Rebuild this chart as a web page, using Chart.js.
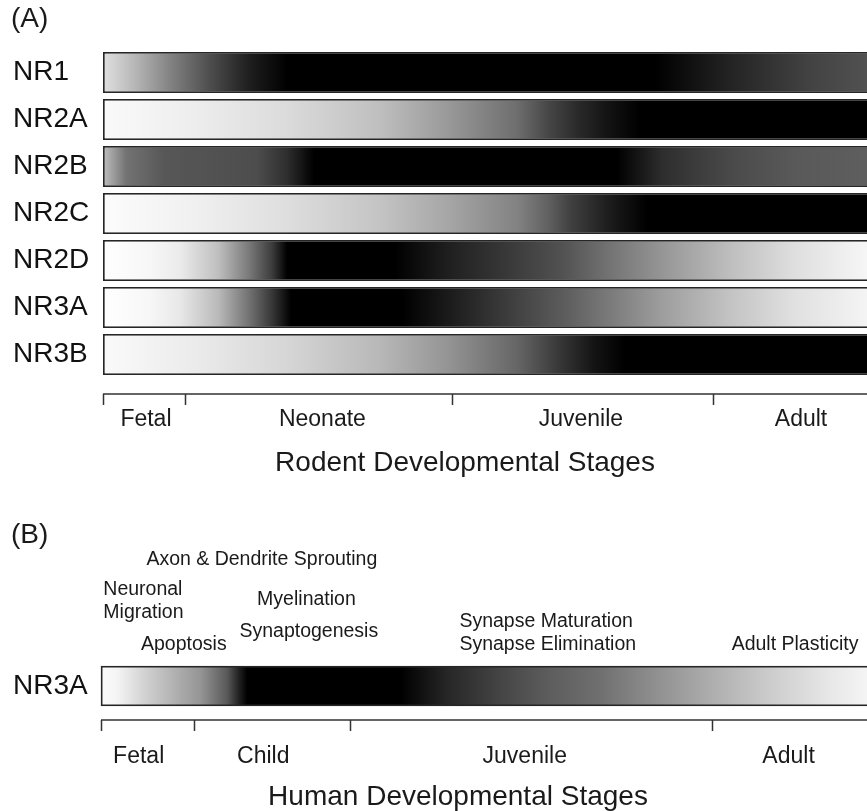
<!DOCTYPE html>
<html>
<head>
<meta charset="utf-8">
<script src="https://cdn.jsdelivr.net/npm/chart.js"></script>
<style>
  body { margin: 0; background: #fff; overflow: hidden; }
  #wrapA { position: absolute; left: 0; top: 0; width: 867px; height: 500px; }
  #wrapB { position: absolute; left: 0; top: 500px; width: 867px; height: 311px; }
</style>
</head>
<body>
<div id="wrapA"><canvas id="chartA"></canvas></div>
<div id="wrapB"><canvas id="chartB"></canvas></div>
<script>
const FONT = "'Liberation Sans', Arial, sans-serif";

// time line runs 0..100 (% of development shown)
const timeSpan = [0, 100];

// rodent subunits, top to bottom
const rodentGenes = ['NR1', 'NR2A', 'NR2B', 'NR2C', 'NR2D', 'NR3A', 'NR3B'];

// expression profiles: [time %, level 0..100] where 100 = black
const nr1  = [[0,12],[4,28],[9,50],[14,70],[19,88],[24,100],[72,100],[82,86],[92,74],[100,68]];
const nr2a = [[0,2],[12,7],[24,14],[36,25],[45,40],[54,57],[58,72],[62,84],[66,93],[70,100],[100,100]];
const nr2b = [[0,25],[3,55],[8,66],[20,70],[24,82],[27.5,100],[67,100],[73,82],[82,71],[90,65],[100,63]];
const nr2c = [[0,1],[12,6],[24,13],[36,23],[45,35],[54,49],[58,62],[61,75],[66,89],[71,100],[100,100]];
const nr2d = [[0,0],[6,3],[10,8],[15,25],[19,52],[22,76],[24,100],[38,100],[45,88],[54,76],[60,68],[66,55],[73,41],[82,25],[90,13],[100,3]];
const nr3a = [[0,0],[6,3],[10,9],[15,27],[19,55],[22,78],[24.5,100],[39,100],[46,88],[54,74],[60,64],[66,52],[73,38],[82,23],[90,12],[100,4]];
const nr3b = [[0,2],[12,8],[24,16],[36,28],[45,42],[54,60],[60,80],[64,92],[68,100],[100,100]];

// human NR3A
const humanGenes = ['NR3A'];
const humanNr3a = [[0,2],[2,4],[6,19],[10,32],[13,42],[16.4,65],[18,88],[19,100],[39,100],[45,85],[52,73],[58,64],[65,56],[72,44],[78,34],[87,20],[95,9],[100,4]];

// stage axes: boundaries and label anchors in time %
const rodentStages = ['Fetal', 'Neonate', 'Juvenile', 'Adult'];
const rodentBounds = [0, 10.7, 45.5, 79.5];
const rodentStageAt = [5.6, 28.6, 62.3, 91.0];

const humanStages = ['Fetal', 'Child', 'Juvenile', 'Adult'];
const humanBounds = [0, 12.1, 32.4, 79.5];
const humanStageAt = [4.9, 21.1, 55.1, 89.4];

// developmental events (human), left edge in time %
const events = ['Axon & Dendrite Sprouting', 'Neuronal', 'Migration', 'Myelination', 'Synaptogenesis',
                'Apoptosis', 'Synapse Maturation', 'Synapse Elimination', 'Adult Plasticity'];
const eventAt = [5.9, 0.3, 0.3, 20.3, 18.0, 5.2, 46.6, 46.6, 82.0];

function shade(level) {
    const g = Math.round(255 * (1 - level / 100));
    return 'rgb(' + g + ',' + g + ',' + g + ')';
}

function gradientFill(profiles) {
    return function (ctx) {
        const chart = ctx.chart;
        const x = chart.scales.x;
        if (!chart.chartArea || !x) return '#888';
        const x0 = x.getPixelForValue(timeSpan[0]);
        const x1 = x.getPixelForValue(timeSpan[1]);
        const grad = chart.ctx.createLinearGradient(x0, 0, x1, 0);
        profiles[ctx.dataIndex].forEach(([p, v]) => grad.addColorStop(p / 100, shade(v)));
        return grad;
    };
}

// draws the stage axis, titles and notes under / over the bars
const stageAxis = {
    id: 'stageAxis',
    afterDraw(chart, args, o) {
        const c = chart.ctx, x = chart.scales.x;
        c.save();
        c.strokeStyle = '#333';
        c.lineWidth = 1.5;
        c.beginPath();
        c.moveTo(x.getPixelForValue(0), o.lineY);
        c.lineTo(x.getPixelForValue(100) + 2, o.lineY);
        o.bounds.forEach(b => {
            const px = Math.round(x.getPixelForValue(b)) + 0.5;
            c.moveTo(px, o.lineY);
            c.lineTo(px, o.lineY + 11);
        });
        c.stroke();

        c.fillStyle = '#1a1a1a';
        c.textBaseline = 'middle';
        c.textAlign = 'center';
        c.font = '23px ' + FONT;
        o.labels.forEach((t, i) => c.fillText(t, x.getPixelForValue(o.labelAt[i]), o.labelY));
        c.font = '28px ' + FONT;
        c.fillText(o.title, o.titleX, o.titleY);

        c.textAlign = 'left';
        c.font = '28px ' + FONT;
        c.fillText(o.panel, 11, o.panelY);

        if (o.notes) {
            c.font = '19.5px ' + FONT;
            o.notes.forEach((t, i) => c.fillText(t, x.getPixelForValue(o.notesAt[i]), o.notesY[i]));
        }
        c.restore();
    }
};

function makeChart(id, genes, profiles, pad, axisWidth, barPct, axisOpts) {
    return new Chart(document.getElementById(id), {
        type: 'bar',
        data: {
            labels: genes,
            datasets: [{
                data: genes.map(() => timeSpan),
                backgroundColor: gradientFill(profiles),
                borderColor: '#262626',
                borderWidth: 1.8,
                borderSkipped: false,
                barPercentage: barPct,
                categoryPercentage: 1,
                // the bars run off the right edge of the figure
                clip: { left: 5, top: 5, right: 0, bottom: 5 }
            }]
        },
        options: {
            indexAxis: 'y',
            responsive: true,
            maintainAspectRatio: false,
            animation: false,
            layout: { padding: pad },
            scales: {
                x: { type: 'linear', min: 0, max: 99.6, display: false },
                y: {
                    grid: { display: false },
                    border: { display: false },
                    ticks: {
                        crossAlign: 'far',
                        color: '#111',
                        padding: 0,
                        font: { family: FONT, size: 28 }
                    },
                    afterFit: scale => { scale.width = axisWidth; }
                }
            },
            plugins: {
                legend: { display: false },
                tooltip: { enabled: false },
                stageAxis: axisOpts
            }
        },
        plugins: [stageAxis]
    });
}

makeChart('chartA', rodentGenes, [nr1, nr2a, nr2b, nr2c, nr2d, nr3a, nr3b],
    { left: 13, top: 49, right: 0, bottom: 122 }, 90, 0.872, {
        lineY: 394, bounds: rodentBounds,
        labels: rodentStages, labelAt: rodentStageAt, labelY: 420,
        title: 'Rodent Developmental Stages', titleX: 465, titleY: 463,
        panel: '(A)', panelY: 19
    });

makeChart('chartB', humanGenes, [humanNr3a],
    { left: 13, top: 166, right: 0, bottom: 105 }, 88, 1, {
        lineY: 220, bounds: humanBounds,
        labels: humanStages, labelAt: humanStageAt, labelY: 257,
        title: 'Human Developmental Stages', titleX: 458, titleY: 297,
        panel: '(B)', panelY: 35,
        notes: events, notesAt: eventAt,
        notesY: [60, 90, 113, 100, 132, 145, 122, 145, 145]
    });
</script>
</body>
</html>
